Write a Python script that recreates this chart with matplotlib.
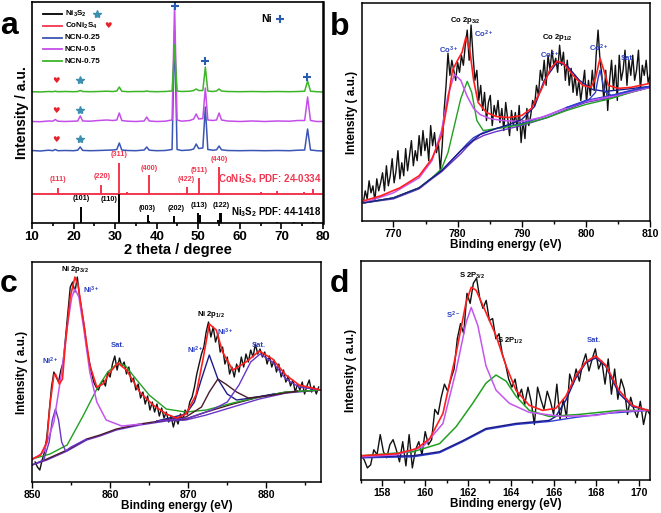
import numpy as np
import matplotlib
matplotlib.use("Agg")
import matplotlib.pyplot as plt
from matplotlib.ticker import MultipleLocator

plt.rcParams["font.family"] = ["Liberation Sans", "DejaVu Sans"]
plt.rcParams["font.weight"] = "bold"
plt.rcParams["mathtext.fontset"] = "custom"
plt.rcParams["mathtext.rm"] = "Liberation Sans:bold"
plt.rcParams["mathtext.it"] = "Liberation Sans:bold"
plt.rcParams["mathtext.bf"] = "Liberation Sans:bold"
plt.rcParams["mathtext.default"] = "rm"

# ---------------- panel a: XRD ----------------
two_theta = [10, 12, 14, 15.0, 15.6, 16.2, 18, 20, 21.0, 21.6, 22.2, 24, 26, 28, 29.5,
             30.4, 31.0, 31.6, 33, 35, 37.0, 37.6, 38.2, 40, 42, 43.7, 44.3, 44.9, 46,
             48, 48.9, 49.5, 50.1, 51.1, 51.7, 52.3, 53.5, 54.4, 55.0, 55.6, 57, 60, 63,
             66, 69, 72, 74, 75.6, 76.3, 77.0, 78.5, 80]
ncn_025 = [0.5, 0, 0.8, 0.3, 1.5, 0.3, 0.5, 0.3, 0.8, 4, 0.6, 0.3, 0.5, 0.8, 1, 1.5, 8, 1,
           0.5, 0.3, 1, 4, 0.8, 0.3, 0.5, 1.5, 120, 1.5, 0.5, 1, 2, 7, 2.5, 3, 44, 1.5, 0.8,
           1.2, 5, 1.2, 0.5, 0.3, 0.5, 0.3, 0.5, 0.3, 0.8, 1, 22, 1, 0.3, 0]
ncn_05 = [0.5, 0.3, 1, 0.8, 2.5, 0.8, 0.5, 0.8, 1, 6, 1, 0.8, 1.5, 2, 1.5, 2, 9, 1.5, 0.8,
          0.5, 1, 5, 1, 0.5, 0.8, 2, 117, 2, 0.8, 1.5, 3, 8, 3, 3.5, 34, 2, 1.5, 2, 9, 2, 1,
          0.5, 1, 0.5, 1, 0.8, 1.5, 1.5, 25, 1.5, 0.5, 0.5]
ncn_075 = [0.3, 0, 0.5, 0.3, 0.8, 0.3, 0.5, 0.3, 0.5, 1.5, 0.5, 0.3, 0.5, 0.8, 0.5, 1, 5,
           0.8, 0.3, 0.5, 0.5, 1, 0.5, 0.3, 0.5, 1, 47, 1, 0.5, 0.8, 1.5, 3, 1.5, 1.5, 25, 1,
           0.5, 1, 3, 1, 0.5, 0.3, 0.5, 0.3, 0.5, 0.3, 0.5, 0.8, 11, 0.8, 0.3, 0]

coni_pos = [16.3, 26.7, 31.0, 32.9, 38.1, 47.3, 50.2, 55.1, 57.7, 62.3, 65.0, 69.0, 71.5, 75.5, 77.7]
coni_h = [6, 9, 31, 2, 19, 7, 16, 27, 1, 1, 2, 3, 1, 2, 5]
coni_hkl = ["(111)", "(220)", "(311)", "(400)", "(422)", "(511)", "(440)"]
coni_hkl_x = [16.3, 26.8, 31.0, 38.1, 47.2, 50.2, 55.1]
coni_hkl_y = [40, 43, 65, 51, 40, 49, 60]

ni3s2_pos = [21.8, 31.0, 37.8, 38.2, 44.2, 49.9, 50.3, 54.8, 55.2, 55.5, 69.0, 73.0, 77.5]
ni3s2_h = [16, 29, 8, 2, 7, 10, 8, 3, 10, 10, 1, 1, 1]
ni3s2_hkl = ["(101)", "(110)", "(003)", "(202)", "(113)", "(122)"]
ni3s2_hkl_x = [21.8, 28.6, 37.7, 44.6, 50.2, 55.4]
ni3s2_hkl_y = [21, 20, 11, 11, 14, 14]

ni_peaks = [44.3, 51.6, 76.2]
ni_marks_y = [217, 162, 146]

# ---------------- panel b: Co 2p ----------------
b_counts = [18, 30, 22, 40, 28, 35, 20, 42, 30, 38,
            48, 30, 55, 35, 45, 62, 38, 50, 70, 42,
            58, 45, 72, 50, 65, 80, 55, 70, 60, 85,
            65, 90, 70, 82, 60, 95, 75, 88, 68, 78,
            50, 75, 110, 135, 167, 145, 160, 150, 140, 158,
            148, 165, 155, 175, 190, 160, 195, 165, 140, 150,
            120, 135, 110, 128, 100, 118, 125, 95, 115, 105,
            120, 98, 112, 90, 118, 102, 85, 110, 95, 108,
            90, 115, 78, 100, 82, 112, 95, 105, 120, 115,
            135, 125, 150, 140, 160, 135, 165, 150, 170, 155,
            162, 148, 175, 155, 168, 140, 160, 135, 152, 128,
            145, 125, 140, 120, 135, 150, 118, 140, 125, 150,
            130, 165, 190, 160, 145, 120, 150, 110, 140, 160,
            130, 155, 120, 165, 140, 150, 170, 135, 160, 145,
            165, 140, 150, 170, 130, 155, 145, 160, 138, 145]
b_be = 765.3 + 0.3 * np.arange(len(b_counts))

b_bg_x = [765.3, 770, 774, 776, 777.5, 779, 780.5, 781.5, 782.5, 784, 786, 790, 794, 797, 800, 804, 807, 810]
b_bg_y = [18, 23, 33, 43, 50, 60, 70, 77, 83, 88, 92, 97, 105, 113, 120, 125, 130, 134]
b_bg2_y = [18, 22, 32, 42, 49, 58, 67, 74, 80, 85, 89, 95, 103, 111, 118, 123, 128, 133]
b_mag_x = [765.3, 770, 774, 776, 777.5, 778.5, 779.5, 780.5, 781.5, 782.5, 783.5, 785, 787, 790, 793, 796, 800, 804, 810]
b_mag_y = [18, 28, 43, 60, 90, 125, 146, 140, 124, 112, 106, 102, 100, 99, 103, 110, 119, 124, 133]
b_grn_x = [765.3, 770, 774, 776, 777.5, 778.5, 779.5, 780.5, 781.5, 782.2, 783, 784, 786, 790, 794, 797, 800, 804, 807, 810]
b_grn_y = [18, 23, 33, 43, 52, 68, 95, 122, 139, 128, 100, 90, 92, 96, 103, 110, 116, 122, 128, 133]
b_nav_x = [765.3, 770, 774, 777.5, 780.5, 783.5, 786, 788, 790, 792, 793.5, 795.5, 797, 799, 801, 803, 806, 810]
b_nav_y = [18, 23, 33, 50, 70, 86, 92, 96, 101, 114, 140, 158, 155, 140, 131, 129, 131, 134]
b_blu_x = [797, 799, 800.5, 801.5, 801.9, 802.2, 802.5, 802.9, 804, 806, 810]
b_blu_y = [113, 117, 121, 128, 142, 150, 142, 129, 125, 128, 134]
b_red_x = [765.3, 768, 771, 774, 776, 777.5, 778.5, 779.2, 780, 780.7, 781.3, 781.9, 782.5,
           783.2, 784.5, 786, 788, 790, 791.5, 793, 794.5, 795.5, 796.5, 798, 799.5, 800.8,
           801.5, 802.2, 802.8, 803.5, 805, 807, 810]
b_red_y = [20, 25, 33, 45, 62, 85, 120, 150, 160, 168, 183, 170, 140, 118, 108, 104, 103,
           105, 112, 130, 152, 159, 157, 145, 135, 133, 142, 162, 150, 135, 132, 133, 137]

# ---------------- panel c: Ni 2p ----------------
c_counts = [20, 15, 12, 22, 30, 45, 70, 95, 110, 105,
            100, 112, 120, 145, 170, 195, 200, 190, 205, 185,
            170, 155, 135, 122, 110, 100, 95, 92, 98, 102,
            96, 110, 105, 118, 126, 112, 124, 116, 120, 108,
            115, 100, 104, 92, 98, 84, 90, 78, 86, 72,
            80, 70, 78, 66, 74, 64, 70, 60, 66, 55,
            64, 58, 68, 62, 72, 68, 80, 85, 95, 108,
            118, 128, 135, 150, 160, 145, 155, 140, 148, 130,
            135, 118, 125, 108, 115, 105, 118, 110, 125, 115,
            128, 120, 132, 125, 138, 128, 133, 125, 130, 118,
            126, 115, 122, 110, 118, 105, 112, 100, 106, 96,
            102, 90, 98, 92, 100, 88, 96, 102, 90, 96,
            88, 95]
c_be = 850.4 + 0.3 * np.arange(len(c_counts))

c_bg_x = [850.0, 851.9, 854.5, 857.0, 858.7, 860.8, 863.8, 867.2, 869.7, 872.3, 875.7, 879.1, 882.5, 887.0]
c_bg_y = [17, 23, 32, 43, 47, 53, 58, 62, 63, 70, 78, 85, 90, 92]
c_bg2_y = [17, 22, 31, 42, 46, 52, 57, 61, 62, 67, 75, 83, 89, 92]
c_ni2_x = [850.0, 851.5, 852.2, 852.6, 853.0, 853.4, 853.8, 854.3, 855, 857]
c_ni2_y = [17, 22, 40, 62, 73, 62, 40, 31, 35, 43]
c_mag_x = [850.0, 851.5, 852.8, 853.8, 854.6, 855.1, 855.5, 856.0, 856.6, 857.4, 858.3, 859.5, 861.5, 864]
c_mag_y = [22, 30, 60, 110, 160, 185, 193, 185, 155, 110, 80, 62, 56, 58]
c_grn_x = [850.0, 852.3, 854.5, 856.6, 858.3, 859.7, 861.0, 862.0, 862.9, 865.0, 867.2,
           869.7, 872.3, 875.7, 879.1, 882.5, 887]
c_grn_y = [23, 28, 37, 67, 93, 110, 119, 116, 107, 87, 73, 70, 72, 79, 85, 90, 92]
c_nav_x = [866, 869.7, 870.8, 871.7, 872.7, 873.8, 875.0, 876.2, 878, 881]
c_nav_y = [61, 68, 80, 103, 127, 103, 88, 82, 84, 88]
c_brn_x = [866, 869.7, 871.7, 872.7, 873.8, 874.8, 876.2, 877.7, 880, 884]
c_brn_y = [61, 65, 75, 90, 103, 98, 90, 84, 86, 91]
c_pur_x = [866, 870, 873, 875.0, 876.5, 878.0, 879.2, 880.8, 882.5, 884.2, 887]
c_pur_y = [61, 64, 72, 80, 97, 120, 128, 120, 103, 95, 92]
c_red_x = [850.0, 851.1, 851.9, 852.3, 852.8, 853.0, 853.5, 853.9, 854.3, 854.9, 855.5, 855.9,
           856.6, 857.4, 858.3, 859.1, 860.0, 861.0, 862.1, 863.8, 865.5, 867.2, 868.5, 869.7,
           871.0, 871.9, 872.7, 873.6, 874.4, 875.7, 877.4, 879.1, 880.8, 882.5, 884.2, 887.0]
c_red_y = [23, 27, 40, 77, 107, 108, 98, 103, 140, 185, 205, 197, 160, 117, 95, 98, 110, 119,
           112, 90, 77, 68, 64, 68, 87, 123, 158, 152, 130, 112, 120, 131, 123, 107, 97, 92]

# ---------------- panel d: S 2p ----------------
d_counts = [25, 20, 12, 15, 30, 25, 45, 28, 22, 35, 40, 30, 18, 38, 14, 45, 12, 30, 38, 25,
            48, 35, 40, 70, 65, 82, 95, 88, 100, 110, 140, 155, 145, 185, 175, 195, 200, 180,
            170, 178, 158, 160, 140, 145, 125, 115, 100, 92, 100, 82, 90, 75, 92, 78, 55, 92,
            80, 70, 88, 78, 65, 95, 60, 80, 62, 105, 95, 110, 98, 115, 125, 108, 120, 130, 110,
            118, 95, 120, 85, 110, 80, 100, 90, 65, 82, 70, 62, 78, 55, 70, 65]
d_be = 157.0 + 0.15 * np.arange(len(d_counts))

d_red_x = [157.0, 158.66, 159.59, 160.21, 160.83, 161.45, 161.91, 162.15, 162.38, 162.84,
           163.31, 163.78, 164.24, 164.86, 165.48, 166.1, 166.57, 167.03, 167.5, 167.96,
           168.43, 169.05, 169.67, 170.4]
d_red_y = [24, 26, 31, 41, 66, 126, 176, 191, 188, 166, 143, 113, 89, 74, 69, 71, 83, 103,
           117, 123, 114, 89, 74, 69]
d_mag_x = [157.0, 158.66, 159.9, 160.83, 161.45, 161.91, 162.15, 162.46, 162.84, 163.31,
           163.93, 164.86, 166.41, 167.96, 169.05, 170.4]
d_mag_y = [23, 25, 33, 56, 109, 156, 171, 153, 113, 89, 76, 67, 63, 64, 68, 69]
d_grn_x = [157.0, 159.43, 160.67, 161.45, 162.22, 162.84, 163.31, 163.78, 164.24, 164.86,
           165.79, 167.19, 169.05, 170.4]
d_grn_y = [24, 28, 36, 53, 76, 96, 104, 98, 83, 69, 63, 65, 69, 69]
d_nav_x = [157.0, 159.43, 160.67, 161.76, 162.84, 164.24, 165.79, 166.1, 166.57, 167.03,
           167.5, 167.96, 168.43, 169.05, 169.67, 170.4]
d_nav_y = [23, 24, 28, 39, 51, 56, 59, 63, 79, 101, 116, 121, 113, 86, 73, 69]
d_bg_x = [157.0, 159.43, 160.67, 161.76, 162.84, 164.24, 165.79, 167.0, 168.5, 170.4]
d_bg_y = [22, 23, 27, 38, 50, 55, 58, 62, 66, 69]

RED = "#ff1f1f"
MAG = "#c455f0"
GRN = "#22a022"
NAV = "#1c1c8a"
PUR = "#6a35c8"
BRN = "#4a1a2a"
BLU = "#2f3fd0"
LBL = "#2a3fc0"

fig = plt.figure(figsize=(6.61, 5.13), dpi=100)


def style_xps(ax, xlim, ylim, major, minor):
    ax.set_xlim(*xlim)
    ax.set_ylim(*ylim)
    ax.xaxis.set_major_locator(MultipleLocator(major))
    ax.xaxis.set_minor_locator(MultipleLocator(minor))
    ax.set_yticks([])
    ax.tick_params(axis="x", which="major", direction="out", length=4, width=1,
                   labelsize=7.5, pad=2)
    ax.tick_params(axis="x", which="minor", direction="out", length=2.5, width=1)
    ax.set_xlabel("Binding energy (eV)", fontsize=8.5, fontweight="bold", labelpad=0)
    ax.set_ylabel("Intensity ( a.u.)", fontsize=8.5, fontweight="bold", labelpad=3)
    for s in ax.spines.values():
        s.set_linewidth(1.1)


# ---- a ----
ax = fig.add_axes([0.0484, 0.5653, 0.4402, 0.4308])
xrd_red = "#f2354f"
offsets = {"blue": 72, "mag": 101, "grn": 131}
ax.plot(two_theta, np.array(ncn_025) + offsets["blue"], color="#3a55b4", lw=1.1)
ax.plot(two_theta, np.array(ncn_05) + offsets["mag"], color="#c44ee8", lw=1.1)
ax.plot(two_theta, np.array(ncn_075) + offsets["grn"], color="#3cb528", lw=1.1)
red_base = 29
ax.axhline(red_base, color=xrd_red, lw=1.4)
ax.vlines(coni_pos, red_base, red_base + np.array(coni_h), color=xrd_red, lw=1.4)
ax.vlines(ni3s2_pos, 0, ni3s2_h, color="black", lw=1.4)
for lab, x, y in zip(coni_hkl, coni_hkl_x, coni_hkl_y):
    ax.text(x, y, lab, color=xrd_red, fontsize=5.2, ha="center", va="bottom")
for lab, x, y in zip(ni3s2_hkl, ni3s2_hkl_x, ni3s2_hkl_y):
    ax.text(x, y, lab, color="black", fontsize=5.2, ha="center", va="bottom")
ax.text(79.6, 44, "CoNi$_2$S$_4$ PDF: 24-0334", color=xrd_red, fontsize=7,
        ha="right", va="center")
ax.text(79.6, 11, "Ni$_3$S$_2$ PDF: 44-1418", color="black", fontsize=7,
        ha="right", va="center")
for off in offsets.values():
    ax.text(15.8, off + 12, "\u2665", color="#e8202a", fontsize=6, ha="center", va="center",
            family=["DejaVu Sans"])
    ax.plot(21.5, off + 12, marker="*", ms=6, color="#3d8fb0", ls="none")
ax.plot(ni_peaks, ni_marks_y, marker="+", ms=6, mew=1.5, color="#2a5db0", ls="none")
ax.text(66.5, 204, "Ni", fontsize=7.5, ha="center", va="center")
ax.plot(69.7, 204, marker="+", ms=6, mew=1.5, color="#2a5db0")

leg_labels = ["Ni$_3$S$_2$", "CoNi$_2$S$_4$", "NCN-0.25", "NCN-0.5", "NCN-0.75"]
leg_colors = ["black", xrd_red, "#3a55b4", "#c44ee8", "#3cb528"]
for i, (lab, col) in enumerate(zip(leg_labels, leg_colors)):
    yy = 0.945 - 0.053 * i
    ax.plot([0.038, 0.103], [yy, yy], color=col, lw=1.3, transform=ax.transAxes)
    ax.text(0.113, yy, lab, fontsize=5.8, va="center", transform=ax.transAxes)
ax.plot(0.225, 0.945, marker="*", ms=6, color="#3d8fb0", transform=ax.transAxes)
ax.text(0.26, 0.892, "\u2665", color="#e8202a", fontsize=6, ha="center", va="center",
        family=["DejaVu Sans"], transform=ax.transAxes)

ax.set_xlim(10, 80)
ax.set_ylim(0, 221)
ax.xaxis.set_major_locator(MultipleLocator(10))
ax.xaxis.set_minor_locator(MultipleLocator(5))
ax.set_yticks([])
ax.tick_params(axis="x", which="major", direction="out", length=4, width=1.2,
               labelsize=9.5, pad=2)
ax.tick_params(axis="x", which="minor", direction="out", length=2.5, width=1.2)
ax.set_xlabel("2 theta / degree", fontsize=10.5, fontweight="bold", labelpad=0)
ax.set_ylabel("Intensity / a.u.", fontsize=10, fontweight="bold", labelpad=2)
for s in ax.spines.values():
    s.set_linewidth(1.2)
ax.spines["right"].set_linewidth(1.8)

# ---- b ----
ax = fig.add_axes([0.5477, 0.5692, 0.4357, 0.4250])
ax.plot(b_be, b_counts, color="#111111", lw=1.0)
ax.plot(b_bg_x, b_bg2_y, color=PUR, lw=1.0)
ax.plot(b_bg_x, b_bg_y, color=BLU, lw=1.0)
ax.plot(b_grn_x, b_grn_y, color=GRN, lw=1.0)
ax.plot(b_mag_x, b_mag_y, color=MAG, lw=1.1)
ax.plot(b_nav_x, b_nav_y, color=NAV, lw=1.0)
ax.plot(b_blu_x, b_blu_y, color=BLU, lw=1.0)
ax.plot(b_red_x, b_red_y, color=RED, lw=1.2)
ax.text(781.2, 200, "Co 2p$_{3/2}$", fontsize=5.5, ha="center", va="center")
ax.text(795.5, 183, "Co 2p$_{1/2}$", fontsize=5.5, ha="center", va="center")
ax.text(778.6, 170, "Co$^{3+}$", fontsize=5.5, color=LBL, ha="center", va="center")
ax.text(784.0, 186, "Co$^{2+}$", fontsize=5.5, color=LBL, ha="center", va="center")
ax.text(794.3, 165, "Co$^{3+}$", fontsize=5.5, color=LBL, ha="center", va="center")
ax.text(801.9, 172, "Co$^{2+}$", fontsize=5.5, color=LBL, ha="center", va="center")
ax.text(806.6, 162, "Sat.", fontsize=5.5, color=LBL, ha="center", va="center")
style_xps(ax, (765.1, 810), (0, 217), 10, 5)

# ---- c ----
ax = fig.add_axes([0.0484, 0.0604, 0.4372, 0.4288])
ax.plot(c_be, c_counts, color="#111111", lw=1.0)
ax.plot(c_bg_x, c_bg2_y, color=PUR, lw=1.0)
ax.plot(c_bg_x, c_bg_y, color=BRN, lw=1.0)
ax.plot(c_grn_x, c_grn_y, color=GRN, lw=1.0)
ax.plot(c_ni2_x, c_ni2_y, color=PUR, lw=1.0)
ax.plot(c_mag_x, c_mag_y, color=MAG, lw=1.1)
ax.plot(c_nav_x, c_nav_y, color=NAV, lw=1.0)
ax.plot(c_brn_x, c_brn_y, color=BRN, lw=1.0)
ax.plot(c_pur_x, c_pur_y, color=PUR, lw=1.0)
ax.plot(c_red_x, c_red_y, color=RED, lw=1.2)
ax.text(855.5, 213, "Ni 2p$_{3/2}$", fontsize=5.5, ha="center", va="center")
ax.text(872.9, 168, "Ni 2p$_{1/2}$", fontsize=5.5, ha="center", va="center")
ax.text(857.6, 192, "Ni$^{3+}$", fontsize=5.5, color=LBL, ha="center", va="center")
ax.text(852.4, 121, "Ni$^{2+}$", fontsize=5.5, color=LBL, ha="center", va="center")
ax.text(861.0, 137, "Sat.", fontsize=5.5, color=LBL, ha="center", va="center")
ax.text(870.9, 132, "Ni$^{2+}$", fontsize=5.5, color=LBL, ha="center", va="center")
ax.text(874.8, 150, "Ni$^{3+}$", fontsize=5.5, color=LBL, ha="center", va="center")
ax.text(879.1, 137, "Sat.", fontsize=5.5, color=LBL, ha="center", va="center")
style_xps(ax, (850, 887), (0, 220), 10, 5)

# ---- d ----
ax = fig.add_axes([0.5461, 0.0643, 0.4372, 0.4269])
ax.plot(d_be, d_counts, color="#111111", lw=1.0)
ax.plot(d_bg_x, d_bg_y, color=BLU, lw=1.0)
ax.plot(d_nav_x, d_nav_y, color=NAV, lw=1.1)
ax.plot(d_grn_x, d_grn_y, color=GRN, lw=1.1)
ax.plot(d_mag_x, d_mag_y, color=MAG, lw=1.1)
ax.plot(d_red_x, d_red_y, color=RED, lw=1.2)
ax.text(162.2, 202, "S 2P$_{3/2}$", fontsize=5.5, ha="center", va="center")
ax.text(163.95, 138, "S 2P$_{1/2}$", fontsize=5.5, ha="center", va="center")
ax.text(161.3, 163, "S$^{2-}$", fontsize=5.5, color=LBL, ha="center", va="center")
ax.text(167.9, 138, "Sat.", fontsize=5.5, color=LBL, ha="center", va="center")
style_xps(ax, (157, 170.5), (0, 217), 2, 1)

for lab, x, y in [("a", 0.0, 479), ("b", 330, 478), ("c", 0.0, 221), ("d", 330, 221)]:
    fig.text(x / 661, y / 513, lab, fontsize=23, fontweight="bold", ha="left",
             va="baseline")

fig.savefig("out.png", dpi=100)
